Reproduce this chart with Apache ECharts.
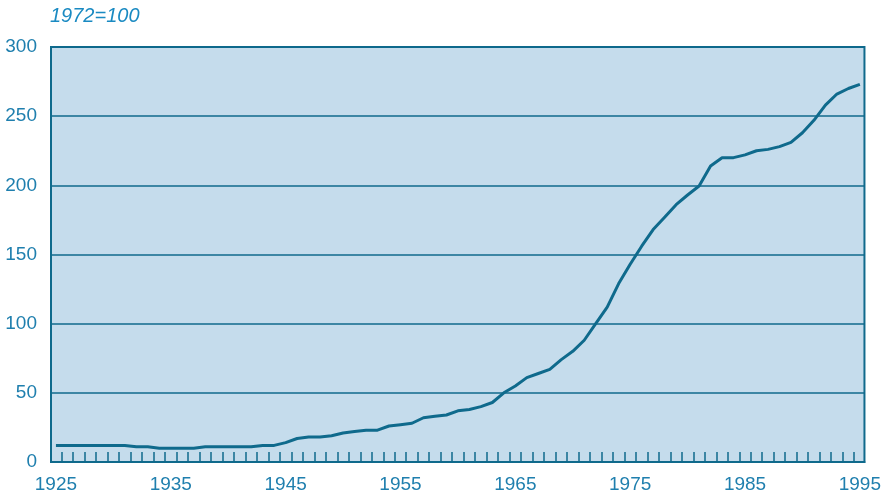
<!DOCTYPE html>
<html>
<head>
<meta charset="utf-8">
<script src="https://cdn.jsdelivr.net/npm/echarts@6/dist/echarts.min.js"></script>
<style>
  html, body { margin: 0; padding: 0; background: #fff; }
  #chart { width: 884px; height: 494px; }
</style>
</head>
<body>
<div id="chart"></div>
<script>
// 年份与指数 (1972=100)
var years = [];
for (var y = 1925; y <= 1995; y++) years.push(y);

var values = [
  12, 12, 12, 12, 12, 12, 12, 11, 11, 10,
  10, 10, 10, 11, 11, 11, 11, 11, 12, 12,
  14, 17, 18, 18, 19, 21, 22, 23, 23, 26,
  27, 28, 32, 33, 34, 37, 38, 40, 43, 50,
  55, 61, 64, 67, 74, 80, 88, 100, 112, 129,
  143, 156, 168, 177, 186, 193, 199.5, 214, 220, 220,
  222, 225, 226, 228, 231, 238, 247, 258, 266, 270,
  273
];

var xLabels = [1925, 1935, 1945, 1955, 1965, 1975, 1985, 1995];
var tickPos = years.slice(0, -1).map(function (v) { return v + 0.5; });
var yTicks = [0, 50, 100, 150, 200, 250, 300];

var teal = '#0f6a8c';
var textBlue = '#1f7fae';

var chart = echarts.init(document.getElementById('chart'));

chart.setOption({
  animation: false,
  title: {
    text: '1972=100',
    left: 45,
    top: 1,
    textStyle: {
      fontFamily: 'Liberation Sans',
      fontStyle: 'italic',
      fontWeight: 'normal',
      fontSize: 20,
      color: '#1a8ac2'
    }
  },
  grid: {
    left: 51,
    right: 18,
    top: 47,
    bottom: 32,
    show: true,
    backgroundColor: '#c5dcec',
    borderColor: teal,
    borderWidth: 2
  },
  xAxis: {
    type: 'value',
    min: 1924.57,
    max: 1995.4,
    axisLine: { show: true, lineStyle: { color: teal, width: 2 } },
    axisTick: {
      show: true,
      inside: true,
      length: 10,
      customValues: tickPos,
      lineStyle: { color: teal, width: 1.5 }
    },
    axisLabel: {
      customValues: xLabels,
      margin: 13,
      fontFamily: 'Liberation Sans',
      fontSize: 19,
      color: textBlue,
      formatter: function (v) { return String(v); }
    },
    splitLine: { show: false }
  },
  yAxis: {
    type: 'value',
    min: yTicks[0],
    max: yTicks[yTicks.length - 1],
    interval: 50,
    axisLine: { show: true, lineStyle: { color: teal, width: 2 } },
    axisTick: { show: false },
    axisLabel: {
      margin: 14,
      fontFamily: 'Liberation Sans',
      fontSize: 19,
      color: textBlue
    },
    splitLine: { show: true, lineStyle: { color: teal, width: 1.5 } }
  },
  series: [{
    type: 'line',
    data: years.map(function (yr, i) { return [yr, values[i]]; }),
    showSymbol: false,
    symbol: 'none',
    lineStyle: { color: teal, width: 3 },
    z: 5
  }]
});
</script>
</body>
</html>
